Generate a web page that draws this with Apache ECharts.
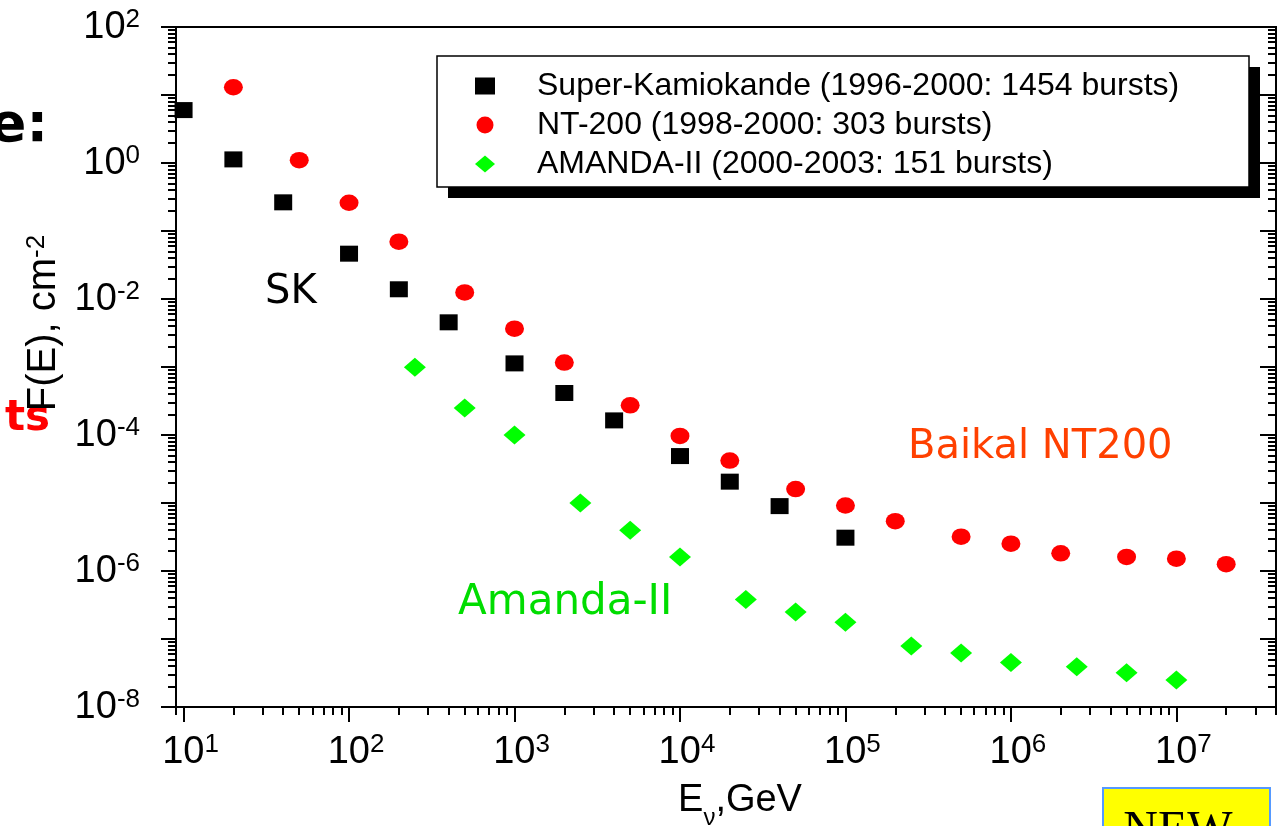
<!DOCTYPE html>
<html>
<head>
<meta charset="utf-8">
<title>GRB neutrino fluence limits</title>
<script src="https://cdn.jsdelivr.net/npm/echarts@6/dist/echarts.min.js"></script>
<style>
html, body { margin: 0; padding: 0; background: #fff; }
#main { width: 1288px; height: 826px; }
</style>
</head>
<body>
<div id="main"></div>
<script>
// Super-Kamiokande (черные квадраты)
var skE = [10, 20, 40, 100, 200, 400, 1e3, 2e3, 4e3, 1e4, 2e4, 4e4, 1e5];
var skF = [6.0, 1.13, 0.264, 0.0464, 0.0139, 0.00454, 0.00113, 4.15e-4, 1.64e-4, 4.9e-5, 2.06e-5, 9.0e-6, 3.09e-6];

// NT-200 (красные кружки)
var ntE = [20, 50, 100, 200, 500, 1e3, 2e3, 5e3, 1e4, 2e4, 5e4, 1e5, 2e5, 5e5, 1e6, 2e6, 5e6, 1e7, 2e7];
var ntF = [13.0, 1.1, 0.26, 0.0697, 0.0125, 0.00366, 0.00116, 2.73e-4, 9.7e-5, 4.2e-5, 1.6e-5, 9.2e-6, 5.4e-6, 3.2e-6, 2.52e-6, 1.82e-6, 1.61e-6, 1.52e-6, 1.26e-6];

// AMANDA-II (зеленые ромбы)
var amE = [250, 500, 1e3, 2500, 5e3, 1e4, 2.5e4, 5e4, 1e5, 2.5e5, 5e5, 1e6, 2.5e6, 5e6, 1e7];
var amF = [9.9e-4, 2.5e-4, 1.0e-4, 1.0e-5, 3.96e-6, 1.6e-6, 3.8e-7, 2.5e-7, 1.76e-7, 7.9e-8, 6.2e-8, 4.5e-8, 3.9e-8, 3.2e-8, 2.5e-8];

var seriesNames = [
    'Super-Kamiokande (1996-2000: 1454 bursts)',
    'NT-200 (1998-2000: 303 bursts)',
    'AMANDA-II (2000-2003: 151 bursts)'
];

// деления осей
var xMajor = [10, 100, 1e3, 1e4, 1e5, 1e6, 1e7];
var yMajor = [1e-8, 1e-7, 1e-6, 1e-5, 1e-4, 1e-3, 1e-2, 1e-1, 1, 10, 100];
var yLabeled = [1e-8, 1e-6, 1e-4, 1e-2, 1, 100];
var minorSteps = [2, 3, 4, 5, 6, 7, 8, 9];

function minorOf(decades) {
    var out = [];
    decades.forEach(function (d) {
        minorSteps.forEach(function (m) { out.push(m * d); });
    });
    return out;
}
var xMinor = minorOf([1, 10, 100, 1e3, 1e4, 1e5, 1e6, 1e7]);
var yMinor = minorOf(yMajor);

function pairs(xs, ys) {
    return xs.map(function (x, i) { return [x, ys[i]]; });
}

function expOf(v) {
    return Math.round(Math.log10(v));
}

var FONT = '"Liberation Sans", Arial, sans-serif';
var TICK = { color: '#000', width: 2 };

var chart = echarts.init(document.getElementById('main'));

var option = {
    animation: false,
    backgroundColor: '#fff',
    textStyle: { fontFamily: FONT },
    grid: {
        left: 176, top: 27, right: 12, bottom: 119,
        show: true, borderColor: '#000', borderWidth: 2,
        outerBoundsMode: 'none'
    },
    legend: {
        left: 437, top: 56,
        orient: 'vertical',
        data: seriesNames,
        itemWidth: 20, itemHeight: 17, itemGap: 7,
        symbolKeepAspect: false,
        padding: [14, 69, 7, 38],
        formatter: function (name) { return '{g|}' + name; },
        textStyle: {
            fontFamily: FONT, fontSize: 32, lineHeight: 32, color: '#000',
            rich: { g: { width: 37 } }
        }
    },
    xAxis: [{
        type: 'log', logBase: 10, min: 9, max: 4e7, position: 'bottom',
        axisLine: { show: true, onZero: false, lineStyle: TICK },
        axisTick: { show: true, length: 15, lineStyle: TICK, customValues: xMajor },
        minorTick: { show: false },
        splitLine: { show: false },
        axisLabel: {
            customValues: xMajor, margin: 25, color: '#000',
            formatter: function (v) { return '{p|}{b|10}{s|' + expOf(v) + '}'; },
            rich: {
                p: { width: 14 },
                b: { fontFamily: FONT, fontSize: 38, lineHeight: 40, padding: [8, 0, 0, 0], verticalAlign: 'bottom', color: '#000' },
                s: { fontFamily: FONT, fontSize: 26, lineHeight: 38, verticalAlign: 'top', color: '#000' }
            }
        },
        name: '{sp|}{m|E}{u|ν}{m|,GeV}',
        nameLocation: 'middle', nameGap: 75, nameMoveOverlap: false,
        nameTextStyle: {
            rich: {
                sp: { width: 28 },
                m: { fontFamily: FONT, fontSize: 38, lineHeight: 40, verticalAlign: 'top', color: '#000' },
                u: { fontFamily: FONT, fontSize: 24, lineHeight: 24, padding: [24, 0, 0, 0], verticalAlign: 'top', color: '#000' }
            }
        }
    }, {
        type: 'log', logBase: 10, min: 9, max: 4e7, position: 'bottom',
        axisLine: { show: false },
        axisTick: { show: true, length: 8, lineStyle: TICK, customValues: xMinor },
        axisLabel: { show: false },
        splitLine: { show: false }
    }],
    yAxis: [{
        type: 'log', logBase: 10, min: 1e-8, max: 100, position: 'left',
        axisLine: { show: true, onZero: false, lineStyle: TICK },
        axisTick: { show: true, length: 15, lineStyle: TICK, customValues: yMajor },
        minorTick: { show: false },
        splitLine: { show: false },
        axisLabel: {
            customValues: yLabeled, margin: 36, color: '#000',
            formatter: function (v) { return '{b|10}{s|' + expOf(v) + '}'; },
            rich: {
                b: { fontFamily: FONT, fontSize: 38, lineHeight: 40, padding: [8, 0, 0, 0], verticalAlign: 'bottom', color: '#000' },
                s: { fontFamily: FONT, fontSize: 26, lineHeight: 30, verticalAlign: 'top', color: '#000' }
            }
        },
        name: '{sp|}{m|F(E), cm}{s|-2}',
        nameLocation: 'middle', nameGap: 112, nameMoveOverlap: false,
        nameTextStyle: {
            rich: {
                sp: { width: 88 },
                m: { fontFamily: FONT, fontSize: 40, lineHeight: 40, padding: [10, 0, 0, 0], verticalAlign: 'bottom', color: '#000' },
                s: { fontFamily: FONT, fontSize: 26, lineHeight: 24, verticalAlign: 'top', color: '#000' }
            }
        }
    }, {
        type: 'log', logBase: 10, min: 1e-8, max: 100, position: 'left',
        axisLine: { show: false },
        axisTick: { show: true, length: 8, lineStyle: TICK, customValues: yMinor },
        axisLabel: { show: false },
        splitLine: { show: false }
    }, {
        type: 'log', logBase: 10, min: 1e-8, max: 100, position: 'right',
        axisLine: { show: true, onZero: false, lineStyle: TICK },
        axisTick: { show: true, inside: true, length: 16, lineStyle: TICK, customValues: yMajor },
        axisLabel: { show: false },
        splitLine: { show: false }
    }, {
        type: 'log', logBase: 10, min: 1e-8, max: 100, position: 'right',
        axisLine: { show: false },
        axisTick: { show: true, inside: true, length: 8, lineStyle: TICK, customValues: yMinor },
        axisLabel: { show: false },
        splitLine: { show: false }
    }],
    series: [{
        name: seriesNames[0],
        type: 'scatter',
        symbol: 'rect', symbolSize: [18, 16],
        itemStyle: { color: '#000', opacity: 1 },
        data: pairs(skE, skF)
    }, {
        name: seriesNames[1],
        type: 'scatter',
        symbol: 'circle', symbolSize: [19, 16.5],
        itemStyle: { color: '#ff0000', opacity: 1 },
        data: pairs(ntE, ntF)
    }, {
        name: seriesNames[2],
        type: 'scatter',
        symbol: 'diamond', symbolSize: [22, 19],
        itemStyle: { color: '#00ff00', opacity: 1 },
        data: pairs(amE, amF)
    }],
    // рамка легенды с тенью и надписи поверх графика
    graphic: [
        { type: 'rect', z: 1, shape: { x: 448, y: 67, width: 812, height: 131 }, style: { fill: '#000' } },
        { type: 'rect', z: 2, shape: { x: 437, y: 56, width: 812, height: 131 }, style: { fill: '#fff', stroke: '#000', lineWidth: 1.5 } },
        { type: 'text', x: 265, y: 293, style: { text: 'SK', font: '40px "DejaVu Sans"', fill: '#000', verticalAlign: 'middle' } },
        { type: 'text', x: 908, y: 448, style: { text: 'Baikal NT200', font: '40px "DejaVu Sans"', fill: '#ff4000', verticalAlign: 'middle' } },
        { type: 'text', x: 458, y: 603, style: { text: 'Amanda-II', font: '42px "DejaVu Sans"', fill: '#00dd00', verticalAlign: 'middle' } },
        { type: 'text', x: 48, y: 127, style: { text: 'ne:', font: 'bold 54px "DejaVu Sans"', fill: '#000', align: 'right', verticalAlign: 'middle' } },
        { type: 'text', x: 50, y: 419, style: { text: 'ts', font: 'bold 42px "DejaVu Sans"', fill: '#ff0000', align: 'right', verticalAlign: 'middle' } },
        { type: 'rect', shape: { x: 1103, y: 788, width: 167, height: 60 }, style: { fill: '#ffff00', stroke: '#5599ff', lineWidth: 2 } },
        { type: 'text', x: 1178, y: 831, style: { text: 'NEW', font: '48px "Liberation Serif"', fill: '#000', align: 'center', verticalAlign: 'middle' } }
    ]
};

chart.setOption(option);
</script>
</body>
</html>
